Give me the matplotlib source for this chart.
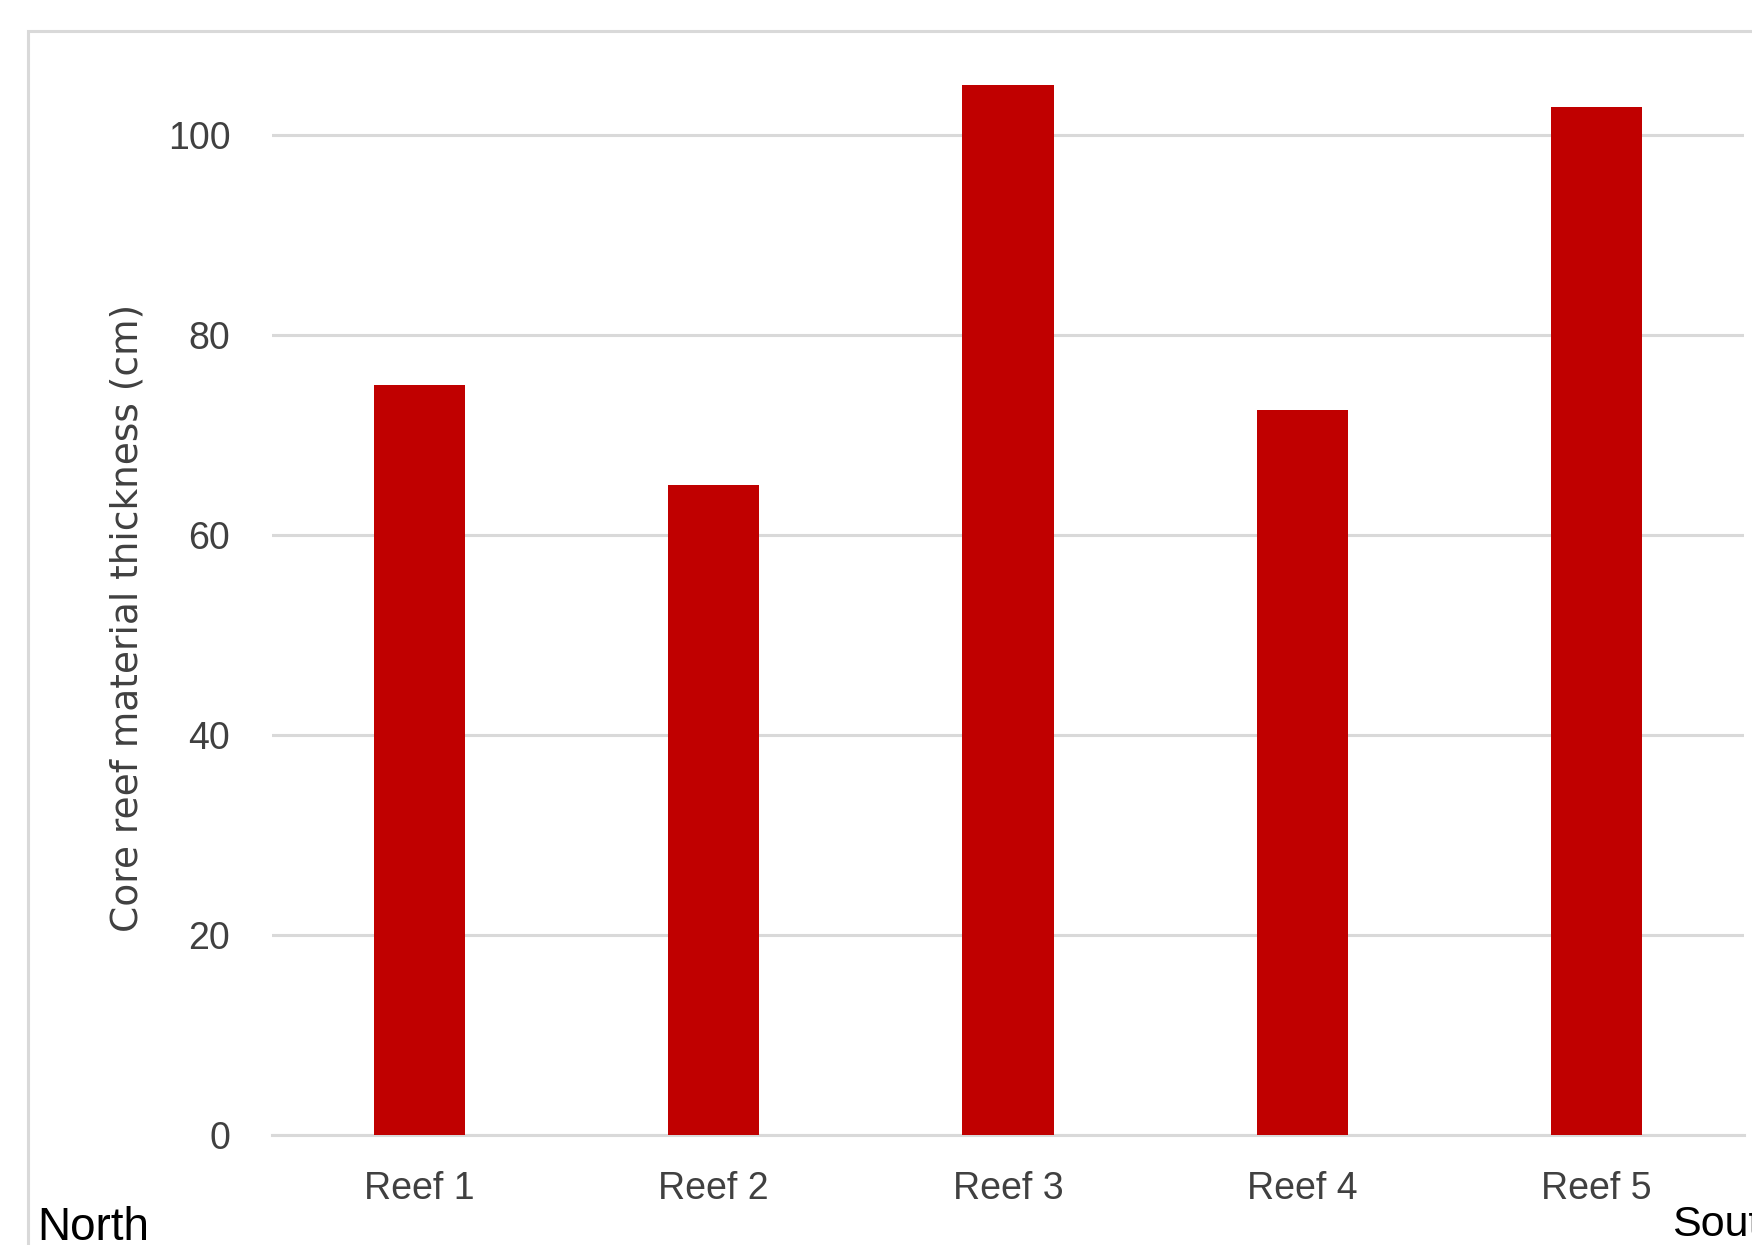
import matplotlib.pyplot as plt
from matplotlib.patches import Rectangle

plt.rcParams['font.family'] = ['Liberation Sans', 'DejaVu Sans']

reefs = ["Reef 1", "Reef 2", "Reef 3", "Reef 4", "Reef 5"]
thickness = [75.0, 65.0, 105.0, 72.5, 102.8]
yticks = [0, 20, 40, 60, 80, 100]

W, H = 1752, 1245
fig = plt.figure(figsize=(W / 100, H / 100), dpi=100)

# light grey chart frame (runs off the right and bottom edge)
fig.patches.append(Rectangle((28 / W, -0.1), 1.2, 1 - 31 / H + 0.1,
                             transform=fig.transFigure, fill=False,
                             edgecolor='#d9d9d9', linewidth=2.2, zorder=0))

ax = fig.add_axes([272 / W, (H - 1135) / H, (1744 - 272) / W, 1100 / H])
ax.bar(reefs, thickness, width=0.31, color='#c00000', zorder=3)

ax.set_ylim(0, 110)
ax.set_xlim(-0.5, len(reefs) - 0.5)
ax.set_yticks(yticks)
ax.grid(axis='y', color='#d9d9d9', linewidth=2.2, zorder=0)
for s in ['top', 'right', 'left']:
    ax.spines[s].set_visible(False)
ax.spines['bottom'].set_color('#d9d9d9')
ax.spines['bottom'].set_linewidth(2.2)
ax.tick_params(axis='y', length=0, pad=30, labelsize=27, labelcolor='#404040')
ax.tick_params(axis='x', length=0, pad=26, labelsize=27, labelcolor='#404040')
ax.set_ylabel("Core reef material thickness (cm)", fontsize=27,
              color='#404040', family='DejaVu Sans')
ax.yaxis.set_label_coords(-0.086, 0.47)

fig.text(37 / W, 1 - 1240 / H, "North", fontsize=33, color='black',
         ha='left', va='baseline')
fig.text(1672 / W, 1 - 1236 / H, "South", fontsize=31, color='black',
         ha='left', va='baseline')

fig.savefig("out.png", dpi=100)
